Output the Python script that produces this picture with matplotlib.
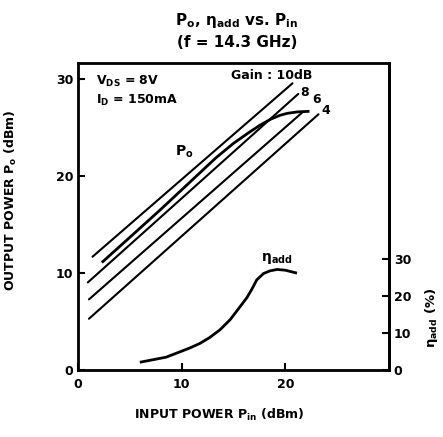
import matplotlib
matplotlib.use("Agg")
import matplotlib.pyplot as plt

plt.rcParams['font.family'] = 'DejaVu Sans'
plt.rcParams['font.weight'] = 'bold'
plt.rcParams['mathtext.default'] = 'regular'

# gain reference lines (Pin -> Po)
gain_labels = ['10dB', '8', '6', '4']
gain_pin = [[1.4, 20.7], [0.95, 21.25], [1.06, 21.65], [1.06, 23.2]]
gain_po = [[11.7, 29.6], [9.05, 28.5], [7.3, 26.6], [5.3, 26.4]]

# output power curve
po_pin = [2.4, 5.0, 8.0, 11.0, 13.3, 15.0, 16.6, 17.6, 18.6, 19.5, 20.2, 21.2, 22.2]
po_val = [11.2, 13.7, 16.6, 19.6, 21.9, 23.4, 24.6, 25.3, 25.9, 26.3, 26.5, 26.65, 26.7]

# power added efficiency (%)
eta_pin = [6.1, 8.5, 9.8, 10.8, 11.75, 12.7, 13.7, 14.7, 15.6, 16.3, 16.8,
           17.25, 17.9, 18.5, 19.2, 20.0, 21.0]
eta_val = [2.2, 3.5, 4.9, 6.0, 7.2, 8.8, 10.9, 13.7, 17.0, 19.6, 22.0,
           24.4, 26.1, 26.8, 27.2, 27.0, 26.3]

x_ticks = [0, 10, 20]
y_ticks = [0, 10, 20, 30]
eta_ticks = [0, 10, 20, 30]

fig = plt.figure(figsize=(4.43, 4.37), dpi=100)
ax = fig.add_axes([0.176, 0.153, 0.702, 0.703])

for i in range(len(gain_labels)):
    ax.plot(gain_pin[i], gain_po[i], color='black', lw=1.5, solid_capstyle='round')
ax.plot(po_pin, po_val, color='black', lw=2.0)

ax.set_xlim(0, 30)
ax.set_ylim(0, 31.7)
ax.set_xticks(x_ticks)
ax.set_yticks(y_ticks)
ax.tick_params(direction='in', length=5, width=1.5, labelsize=9)
ax.tick_params(axis='x', pad=6)
for s in ax.spines.values():
    s.set_linewidth(2)

ax.set_xlabel(r"INPUT POWER P$_{in}$ (dBm)", fontsize=9, fontweight='bold')
ax.xaxis.set_label_coords(0.453, -0.12)
ax.set_ylabel(r"OUTPUT POWER P$_o$ (dBm)", fontsize=9, fontweight='bold')
ax.yaxis.set_label_coords(-0.19, 0.554)

ax2 = ax.twinx()
ax2.plot(eta_pin, eta_val, color='black', lw=2.0)
ax2.set_ylim(0, 83)
ax2.set_yticks(eta_ticks)
ax2.tick_params(direction='in', length=5, width=1.5, labelsize=9)
ax2.spines['right'].set_linewidth(2)
ax2.text(1.138, 0.17, r"$\eta_{add}$ (%)", fontsize=9.5, rotation=90,
         ha='center', va='center', transform=ax2.transAxes)

# annotations
ax.text(1.75, 29.8, r"V$_{DS}$ = 8V", fontsize=9, ha='left', va='center')
ax.text(1.75, 27.8, r"I$_D$ = 150mA", fontsize=9, ha='left', va='center')
ax.text(18.65, 30.4, "Gain : 10dB", fontsize=9, ha='center', va='center')
ax.text(21.85, 28.6, "8", fontsize=9, ha='center', va='center')
ax.text(23.0, 27.9, "6", fontsize=9, ha='center', va='center')
ax.text(23.9, 26.8, "4", fontsize=9, ha='center', va='center')
ax.text(10.3, 22.5, r"P$_o$", fontsize=10, ha='center', va='center')
ax.text(19.2, 11.5, r"$\eta_{add}$", fontsize=10, ha='center', va='center')

fig.text(0.535, 0.953, r"P$_o$, $\eta_{add}$ vs. P$_{in}$", fontsize=11,
         ha='center', va='center')
fig.text(0.535, 0.903, "(f = 14.3 GHz)", fontsize=11, ha='center', va='center')

fig.savefig("out.png", dpi=100)
